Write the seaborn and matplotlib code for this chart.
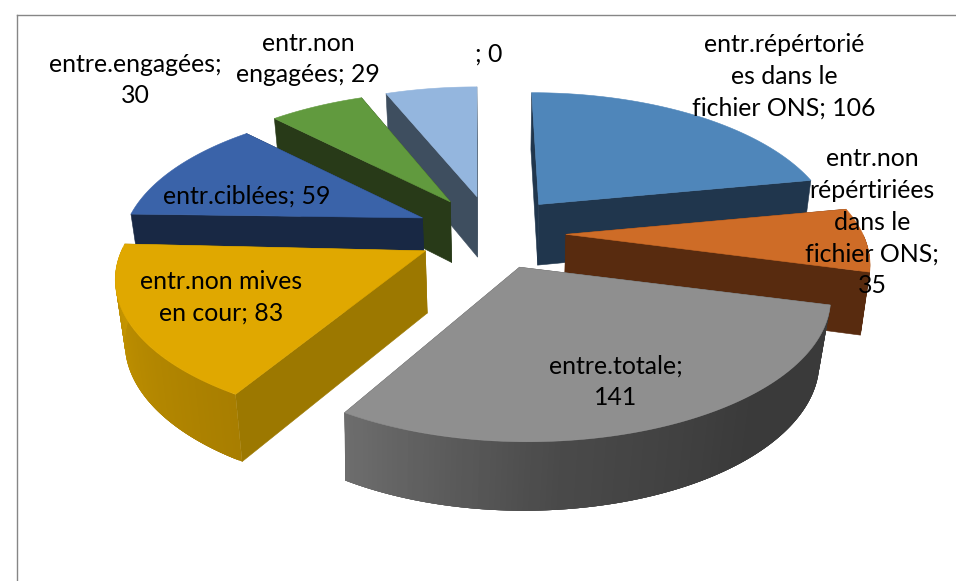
import numpy as np
import matplotlib
matplotlib.use("Agg")
import matplotlib.pyplot as plt
import seaborn as sns

# Chart data, clockwise from twelve o'clock
categories = ["entr.répértorié\nes dans le\nfichier ONS", "entr.non\nrépértiriées\ndans le\nfichier ONS",
              "entre.totale", "entr.non mives\nen cour", "entr.ciblées", "entre.engagées",
              "entr.non\nengagées", ""]
values = [106, 35, 141, 83, 59, 30, 29, 0]
value_seps = [" ", "\n", "\n", " ", " ", "\n", " ", " "]

# Styling per slice
top_colors = ["#4F86BA", "#CE6C27", "#8F8F8F", "#E0A800", "#3A63A9", "#619A3E", "#94B6DE", "#94B6DE"]
wall_colors = ["#20364D", "#582B0F", "#4A4A4A", "#9C7800", "#182844", "#283A18", "#3E4E5F", "#3E4E5F"]
rim_ramps = [["#20364D"], ["#582B0F"], ["#3A3A3A", "#3A3A3A", "#4A4A4A", "#6E6E6E"],
             ["#A87E00", "#C99800"], ["#182844"], ["#283A18"], ["#3E4E5F"], ["#3E4E5F"]]
rim_nudge = [(-7, 1), (1, 0), (8, 0), (-7, -2), (2, 1), (2, 2), (0, 3), (0, 0)]
lower_nudge = [0, 0, -3, 0, 0, 0, 0, 0]
label_xy = [(784, 76), (872, 222), (616, 382), (221, 297), (247, 196), (135, 80), (308, 59), (489, 54)]
draw_order = [6, 5, 4, 3, 0, 1, 2]

# Projection of the tilted pie onto the page (pixel units)
CX, CY = 491, 233
EXPLODE_X, EXPLODE_Y = 75, 37
RAD_X, RAD_Y, PERSP = 296, 137, 0.215


def apex(mid):
    return CX + EXPLODE_X * np.sin(mid), CY - EXPLODE_Y * np.cos(mid)


def rim(theta, ax0, ay0):
    w = 1 + PERSP * np.cos(theta)
    return ax0 + RAD_X * np.sin(theta) / w, ay0 - RAD_Y * np.cos(theta) / w


def lower(x, y, dx=0):
    # The underside converges slightly towards the vanishing point
    return 500 + dx + (np.asarray(x) - 500) * 0.975, np.asarray(y) + 57 + 0.035 * (np.asarray(y) - 100)


sns.set_theme(style="white")
plt.rcParams["font.family"] = ["Lato", "DejaVu Sans"]

fig = plt.figure(figsize=(9.56, 5.81), dpi=100)
ax = fig.add_axes([17 / 956, 0, 1 - 17 / 956, 1 - 15 / 581])
ax.set_xlim(17, 956)
ax.set_ylim(581, 15)
ax.set_xticks([])
ax.set_yticks([])
sns.despine(ax=ax, top=False, right=True, bottom=True)
for side in ("left", "top"):
    ax.spines[side].set_color("#868686")
    ax.spines[side].set_linewidth(1.0)

edges = np.radians(np.concatenate([[0], np.cumsum(values)]) / sum(values) * 360)


def poly(xs, ys, color):
    ax.fill(xs, ys, facecolor=color, edgecolor=color, linewidth=0.4, joinstyle="round")


for i in draw_order:
    t0, t1 = edges[i], edges[i + 1]
    ax0, ay0 = apex((t0 + t1) / 2)
    theta = np.linspace(t0, t1, 120)
    rx, ry = rim(theta, ax0 + rim_nudge[i][0], ay0 + rim_nudge[i][1])
    bx, by = lower(rx, ry, lower_nudge[i])
    abx, aby = lower(ax0, ay0)

    # Radial side walls
    poly([ax0, rx[0], bx[0], abx], [ay0, ry[0], by[0], aby], wall_colors[i])
    poly([ax0, rx[-1], bx[-1], abx], [ay0, ry[-1], by[-1], aby], wall_colors[i])

    # Outer rim, only where it faces the viewer; each strip overlaps the next to hide seams
    ramp = sns.blend_palette(rim_ramps[i] * (2 if len(rim_ramps[i]) == 1 else 1), n_colors=len(theta))
    facing = [k for k in range(len(theta) - 1) if np.cos(theta[k]) < 0.0]
    for k in facing:
        j = min(k + 4, facing[-1] + 1)
        ax.fill(np.r_[rx[k:j + 1], bx[k:j + 1][::-1]], np.r_[ry[k:j + 1], by[k:j + 1][::-1]],
                facecolor=ramp[k], edgecolor="none")

    # Top face
    poly(np.r_[ax0, rx], np.r_[ay0, ry], top_colors[i])

for cat, val, sep, (lx, ly) in zip(categories, values, value_seps, label_xy):
    ax.text(lx, ly, f"{cat};{sep}{val}", ha="center", va="center", fontsize=17.9,
            color="black", linespacing=1.47, multialignment="center")

fig.savefig("out.png", dpi=100)
